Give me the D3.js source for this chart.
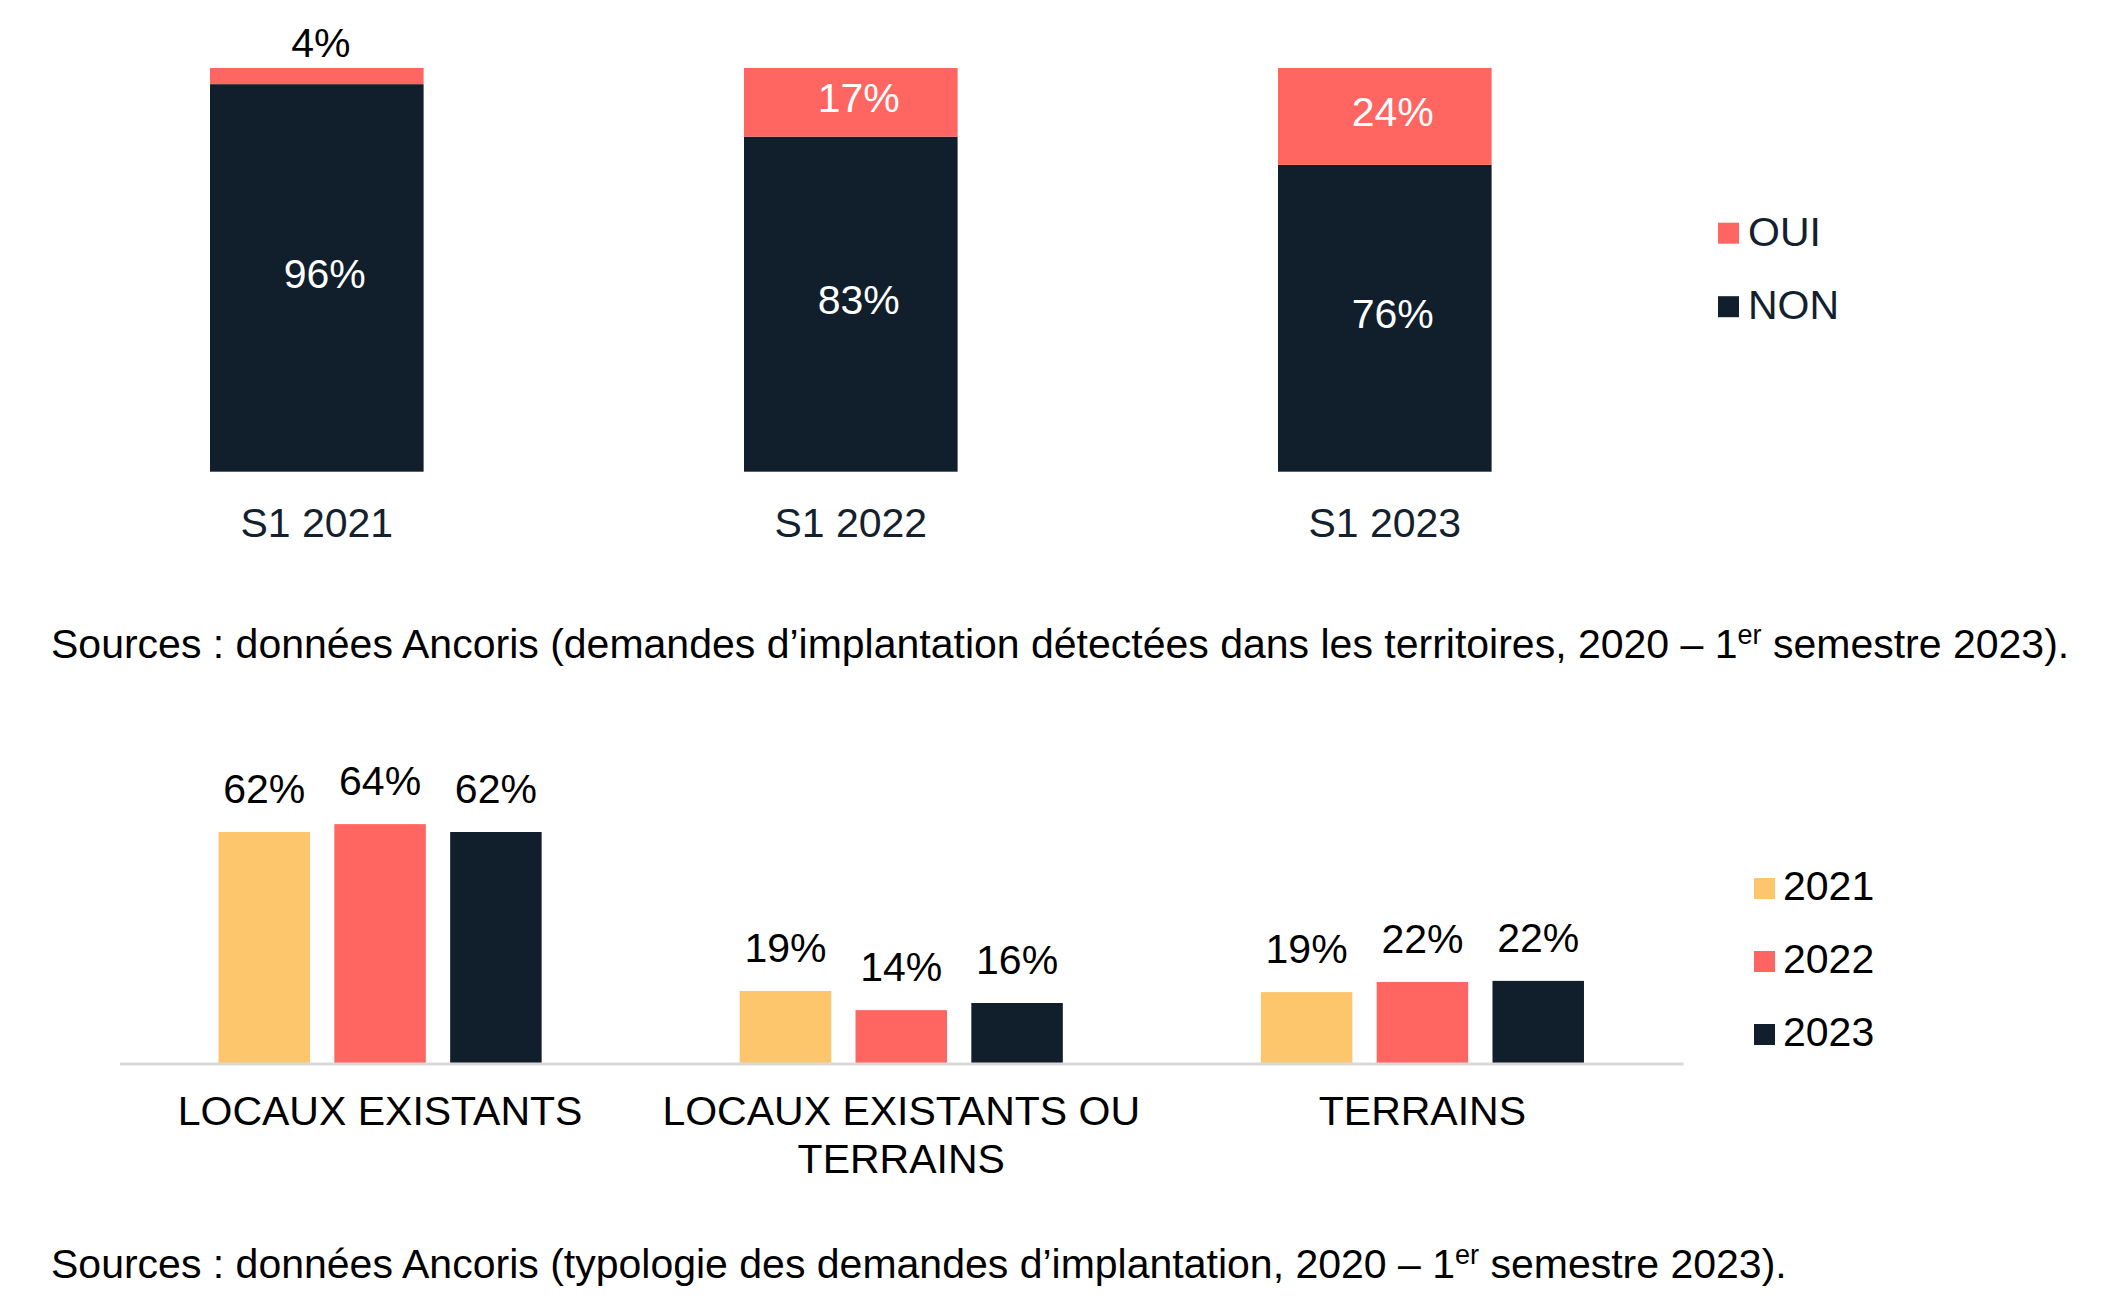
<!DOCTYPE html>
<html><head><meta charset="utf-8">
<script src="https://cdn.jsdelivr.net/npm/d3@7"></script>
<style>
html,body{margin:0;padding:0;background:#fff;}
svg{display:block;font-family:"Liberation Sans",Arial,sans-serif;}
</style></head>
<body>
<svg id="chart" width="2128" height="1316"></svg>
<script>
// ---- Top chart data ----
const periods = ["S1 2021", "S1 2022", "S1 2023"];
const ouiValues = [4, 17, 24];
const nonValues = [96, 83, 76];
const topSeries = ["OUI", "NON"];

// ---- Bottom chart data ----
const types = [["LOCAUX EXISTANTS"], ["LOCAUX EXISTANTS OU", "TERRAINS"], ["TERRAINS"]];
const years = ["2021", "2022", "2023"];
const values2021 = [61.6, 19.2, 18.9];
const values2022 = [63.7, 14.1, 21.6];
const values2023 = [61.6, 16.0, 21.9];
const labels2021 = ["62%", "19%", "19%"];
const labels2022 = ["64%", "14%", "22%"];
const labels2023 = ["62%", "16%", "22%"];

const source1 = ["Sources : données Ancoris (demandes d’implantation détectées dans les territoires, 2020 – 1", "er", " semestre 2023)."];
const source2 = ["Sources : données Ancoris (typologie des demandes d’implantation, 2020 – 1", "er", " semestre 2023)."];

const C_NAVY = "#111f2c", C_RED = "#ff6661", C_YEL = "#fdc66c", C_TXT = "#13212e";
const svg = d3.select("#chart");
const FS = 41;

// ===== Top stacked chart =====
const x1 = d3.scaleBand().domain(periods).range([49.8, 1651.8]).paddingInner(0.6).paddingOuter(0.3);
const y1 = d3.scaleLinear().domain([0, 100]).range([471.7, 68]);
const topData = periods.map((p, i) => ({p, OUI: ouiValues[i], NON: nonValues[i]}));
const stack = d3.stack().keys(["NON", "OUI"])(topData);
const topColor = d3.scaleOrdinal().domain(topSeries).range([C_RED, C_NAVY]);

const gTop = svg.append("g");
stack.forEach(layer => {
  gTop.selectAll(null).data(layer).enter().append("rect")
    .attr("x", d => x1(d.data.p))
    .attr("y", d => y1(d[1]))
    .attr("width", x1.bandwidth())
    .attr("height", d => y1(d[0]) - y1(d[1]))
    .attr("fill", topColor(layer.key));
});
stack.forEach(layer => {
  gTop.selectAll(null).data(layer).enter().append("text")
    .attr("x", d => x1(d.data.p) + x1.bandwidth() / 2 + ((d[1] - d[0]) < 8 ? 4 : 8))
    .attr("y", d => {
      const v = d[1] - d[0];
      if (v < 8) return y1(d[1]) - 11;
      return (y1(d[0]) + y1(d[1])) / 2 + 10;
    })
    .attr("text-anchor", "middle")
    .attr("font-size", FS)
    .attr("fill", d => (d[1] - d[0]) < 8 ? "#000" : "#fff")
    .text(d => (d[1] - d[0]) + "%");
});
const xAxis1 = d3.axisBottom(x1).tickSize(0).tickPadding(0);
const ax1 = svg.append("g").attr("transform", "translate(0,471.7)").call(xAxis1);
ax1.select(".domain").remove();
ax1.selectAll("text").attr("font-size", FS).attr("fill", C_TXT)
  .attr("font-family", "Liberation Sans, Arial, sans-serif")
  .attr("dy", 0).attr("y", 65);

const legTop = svg.append("g");
topSeries.forEach((s, i) => {
  const yy = 222.7 + i * 73.5;
  legTop.append("rect").attr("x", 1718).attr("y", yy).attr("width", 21).attr("height", 21).attr("fill", topColor(s));
  legTop.append("text").attr("x", 1748).attr("y", yy + 23).attr("font-size", FS).attr("fill", C_TXT).text(s);
});

function source(parts, yBase) {
  const t = svg.append("text").attr("x", 51).attr("y", yBase).attr("font-size", 41).attr("fill", "#000");
  t.append("tspan").text(parts[0]);
  t.append("tspan").attr("dy", -14).attr("font-size", 27).text(parts[1]);
  t.append("tspan").attr("dy", 14).text(parts[2]);
}
source(source1, 658);

// ===== Bottom grouped chart =====
const x0 = d3.scaleBand().domain(d3.range(types.length)).range([119.5, 1683]).padding(0);
const xi = d3.scaleBand().domain(years).range([0, x0.bandwidth()]).paddingInner(0.21).paddingOuter(0.855);
const y2 = d3.scaleLinear().domain([0, 100]).range([1063, 688]);
const yColor = d3.scaleOrdinal().domain(years).range([C_YEL, C_RED, C_NAVY]);
const valsByYear = {"2021": values2021, "2022": values2022, "2023": values2023};
const labsByYear = {"2021": labels2021, "2022": labels2022, "2023": labels2023};

const gB = svg.append("g");
const bars = [];
types.forEach((t, i) => years.forEach(yr => bars.push({i, yr, v: valsByYear[yr][i], lab: labsByYear[yr][i]})));
gB.selectAll("rect").data(bars).enter().append("rect")
  .attr("x", d => x0(d.i) + xi(d.yr))
  .attr("y", d => y2(d.v))
  .attr("width", xi.bandwidth())
  .attr("height", d => y2(0) - y2(d.v))
  .attr("fill", d => yColor(d.yr));
gB.selectAll("text.lab").data(bars).enter().append("text").attr("class", "lab")
  .attr("x", d => x0(d.i) + xi(d.yr) + xi.bandwidth() / 2)
  .attr("y", d => y2(d.v) - 29)
  .attr("text-anchor", "middle").attr("font-size", FS).attr("fill", "#000")
  .text(d => d.lab);

const xAxis2 = d3.axisBottom(x0).tickSize(0).tickFormat("");
const ax2 = svg.append("g").attr("transform", "translate(0,1063.5)").call(xAxis2);
ax2.select(".domain").attr("stroke", "#d9d9d9").attr("stroke-width", 3);
types.forEach((lines, i) => {
  const tx = svg.append("text").attr("x", x0(i) + x0.bandwidth() / 2).attr("y", 1125)
    .attr("text-anchor", "middle").attr("font-size", FS).attr("fill", "#000");
  lines.forEach((ln, k) => tx.append("tspan").attr("x", x0(i) + x0.bandwidth() / 2).attr("dy", k === 0 ? 0 : 48).text(ln));
});

years.forEach((yr, k) => {
  const yy = 878 + k * 73;
  svg.append("rect").attr("x", 1754).attr("y", yy).attr("width", 21).attr("height", 21).attr("fill", yColor(yr));
  svg.append("text").attr("x", 1783).attr("y", yy + 22).attr("font-size", FS).attr("fill", "#000").text(yr);
});

source(source2, 1278);
</script>
</body></html>
